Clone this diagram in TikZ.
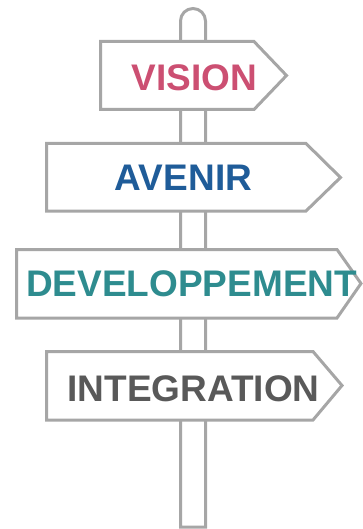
\documentclass[tikz,border=0pt]{standalone}
\usepackage{fontspec}
\setmainfont{Liberation Sans}
\definecolor{signgray}{HTML}{A6A6A6}
\definecolor{cvision}{HTML}{CC4F72}
\definecolor{cavenir}{HTML}{1F5C99}
\definecolor{cdev}{HTML}{2E8C8F}
\definecolor{cinteg}{HTML}{595959}
\tikzset{
  board/.style={draw=signgray, line width=3pt, fill=white, line join=miter},
  label/.style={font=\fontsize{37}{41}\selectfont\bfseries, anchor=base, inner sep=0pt},
}
\begin{document}
\begin{tikzpicture}[x=1pt,y=-1pt]
\useasboundingbox (0,0) rectangle (363,529);
% post
\draw[board] (180.5,527) -- (180.5,21) arc[start angle=180,end angle=360,radius=12.5] -- (205.5,527) -- cycle;
% boards
\draw[board] (100.5,41.5) -- (254,41.5) -- (286.5,75.5) -- (254,109.5) -- (100.5,109.5) -- cycle;
\draw[board] (46.5,143.5) -- (306,143.5) -- (340.5,177.5) -- (306,211) -- (46.5,211) -- cycle;
\draw[board] (16.5,249.5) -- (337,249.5) -- (361,283.5) -- (337,318) -- (16.5,318) -- cycle;
\draw[board] (46.5,351.5) -- (313,351.5) -- (342,385.5) -- (313,420) -- (46.5,420) -- cycle;
% labels
\node[label, text=cvision] (vision) at (194.5,90.5) {VISION};
\node[label, text=cavenir] (avenir) at (183.5,190) {AVENIR};
\node[label, text=cdev] (dev) at (191.5,296) {DEVELOPPEMENT};
\node[label, text=cinteg] (integ) at (193.5,401) {INTEGRATION};
\end{tikzpicture}
\end{document}
